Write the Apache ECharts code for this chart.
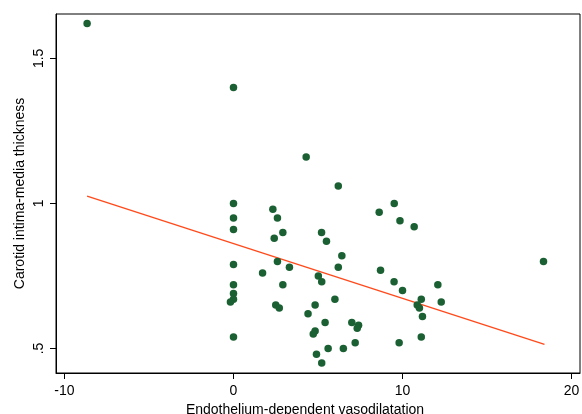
<!DOCTYPE html>
<html>
<head>
<meta charset="utf-8">
<script src="https://cdn.jsdelivr.net/npm/echarts@6/dist/echarts.min.js"></script>
<style>
html,body{margin:0;padding:0;background:#fff;}
#chart{width:582px;height:414px;}
</style>
</head>
<body>
<div id="chart"></div>
<script>
// Endothelium-dependent vasodilatation (x) values
var edvX = [-8.66, 0, 4.30, 6.20, 0, 9.51, 2.33, 8.62, 0, 2.60,
  9.85, 10.69, 0, 2.92, 5.21, 2.41, 5.50, 6.41, 18.34, 0,
  2.60, 3.31, 6.20, 8.70, 1.72, 5.02, 5.22, 9.50, 0, 2.92,
  12.09, 10.0, 0, 0, -0.18, 6.0, 11.11, 12.29, 2.50, 2.71,
  4.83, 10.87, 11.0, 4.41, 11.18, 5.42, 7.0, 7.40, 7.32, 4.83,
  4.72, 0, 11.11, 7.20, 9.80, 5.60, 6.50, 4.91, 5.22];
// Carotid intima-media thickness (y) values
var imtY = [1.62, 1.40, 1.16, 1.06, 1.00, 1.00, 0.98, 0.97, 0.95, 0.95,
  0.94, 0.92, 0.91, 0.90, 0.90, 0.88, 0.87, 0.82, 0.80, 0.79,
  0.80, 0.78, 0.78, 0.77, 0.76, 0.75, 0.73, 0.73, 0.72, 0.72,
  0.72, 0.70, 0.69, 0.67, 0.66, 0.67, 0.67, 0.66, 0.65, 0.64,
  0.65, 0.65, 0.64, 0.62, 0.61, 0.59, 0.59, 0.58, 0.57, 0.56,
  0.55, 0.54, 0.54, 0.52, 0.52, 0.50, 0.50, 0.48, 0.45];
// Fitted line end points
var fitX = [-8.66, 18.40];
var fitY = [1.025, 0.514];
// Tick labels
var xTicks = [-10, 0, 10, 20];
var yTicks = [0.5, 1, 1.5];
var yTickLabels = {0.5: '.5', 1: '1', 1.5: '1.5'};

var pts = edvX.map(function (x, i) { return [x, imtY[i]]; });
var fit = fitX.map(function (x, i) { return [x, fitY[i]]; });

var font = 'Liberation Sans, Arial, sans-serif';
var chart = echarts.init(document.getElementById('chart'), null, {renderer: 'canvas'});
chart.setOption({
  animation: false,
  backgroundColor: '#fff',
  grid: {left: 56, top: 14, right: 2, bottom: 41, show: true,
    outerBoundsMode: 'none', containLabel: false,
    borderColor: '#000', borderWidth: 1, backgroundColor: '#fff'},
  xAxis: {
    type: 'value', min: -10.5, max: 20.5,
    name: 'Endothelium-dependent vasodilatation',
    nameLocation: 'middle', nameGap: 26,
    nameTextStyle: {fontFamily: font, fontSize: 14, color: '#000', padding: [0, 26, 0, 0]},
    axisLine: {show: true, onZero: false, lineStyle: {color: '#000', width: 1}},
    axisTick: {show: true, length: 6, lineStyle: {color: '#000'}, customValues: xTicks},
    axisLabel: {fontFamily: font, fontSize: 14, color: '#000', margin: 11, customValues: xTicks},
    splitLine: {show: false}
  },
  yAxis: {
    type: 'value', min: 0.4156, max: 1.653,
    name: 'Carotid intima-media thickness',
    nameLocation: 'middle', nameGap: 29, nameRotate: 90, nameMoveOverlap: false,
    nameTextStyle: {fontFamily: font, fontSize: 14, color: '#000'},
    axisLine: {show: true, onZero: false, lineStyle: {color: '#000', width: 1}},
    axisTick: {show: true, length: 6, lineStyle: {color: '#000'}, customValues: yTicks},
    axisLabel: {fontFamily: font, fontSize: 14, color: '#000', margin: 10, rotate: 90,
      customValues: yTicks,
      formatter: function (v) { return yTickLabels[v] !== undefined ? yTickLabels[v] : String(v); }},
    splitLine: {show: false}
  },
  series: [
    {type: 'scatter', data: pts, symbol: 'circle', symbolSize: 7.5,
      itemStyle: {color: '#1a6032', opacity: 1}, z: 3},
    {type: 'line', data: fit, symbol: 'none', smooth: false,
      lineStyle: {color: '#ff4a1c', width: 1.4}, z: 2}
  ]
});
</script>
</body>
</html>
